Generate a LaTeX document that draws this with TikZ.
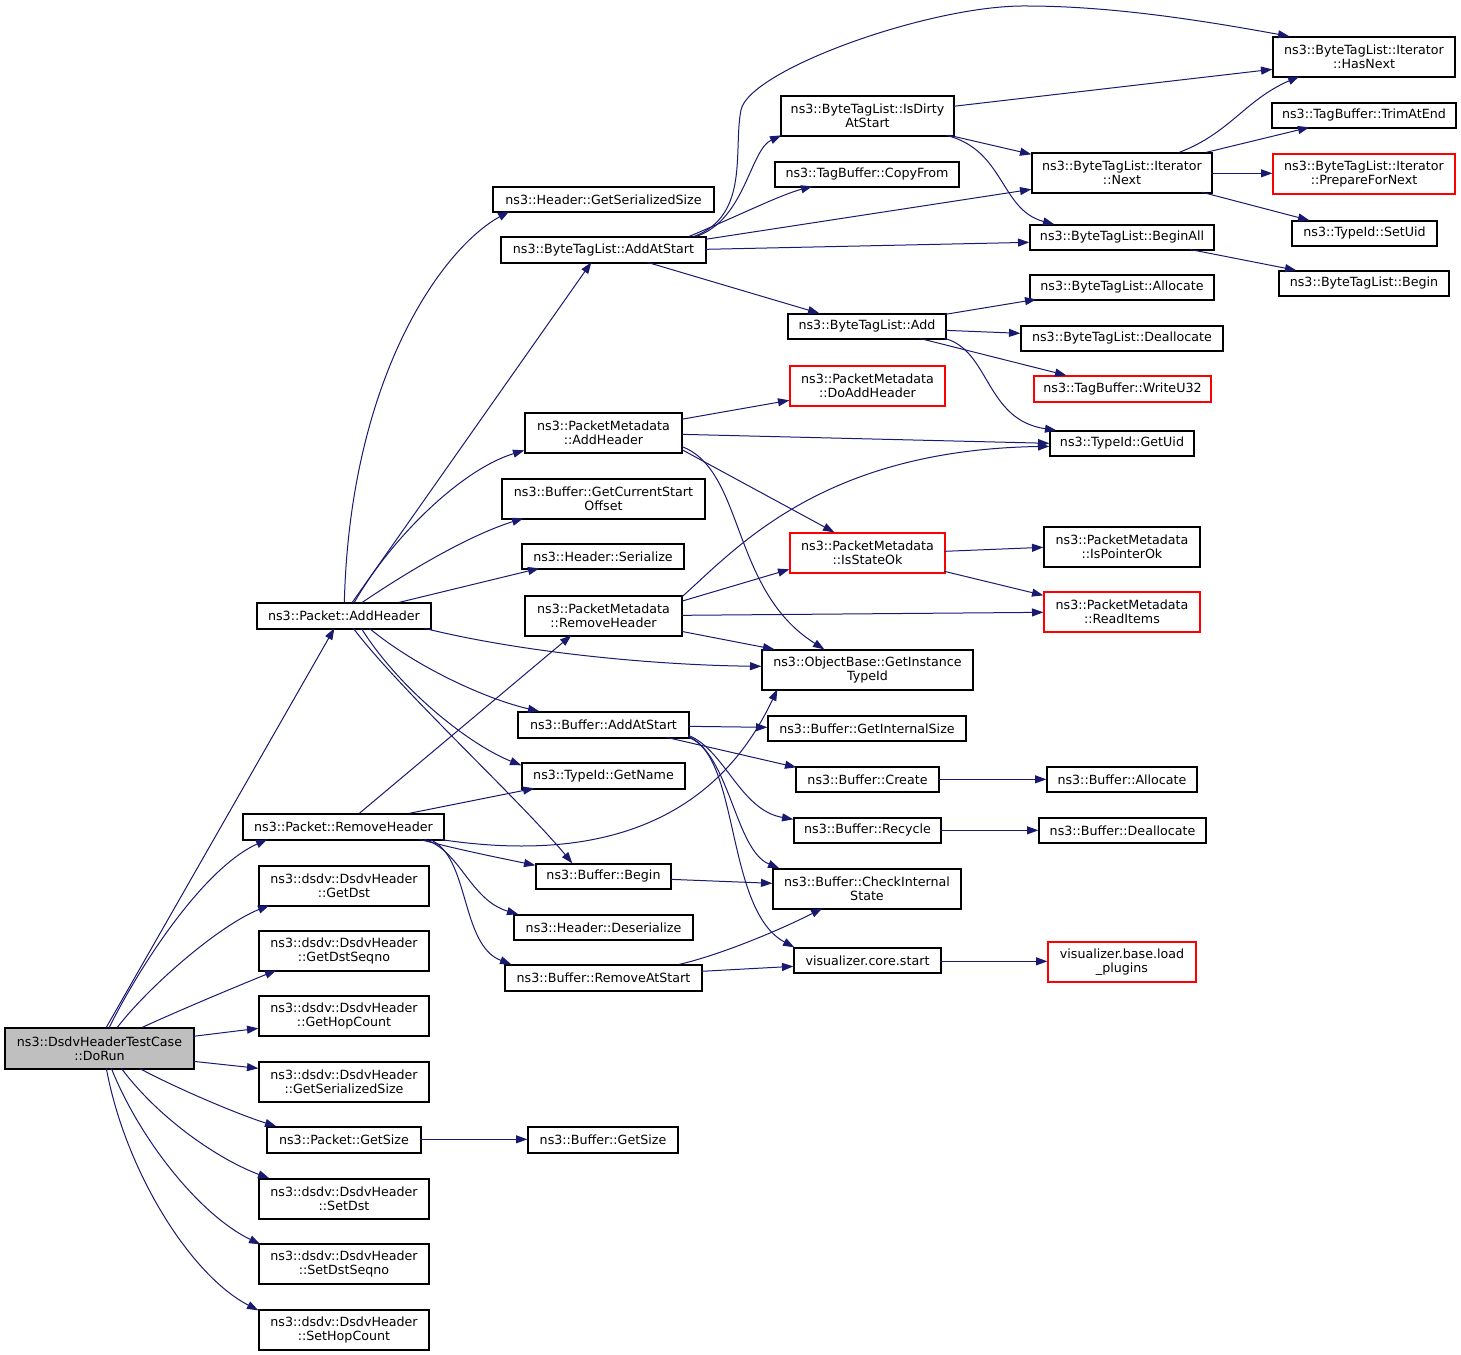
\documentclass[tikz,border=0pt]{standalone}
\usepackage{fontspec}
\setmainfont{DejaVu Sans}
\usetikzlibrary{arrows.meta}
\definecolor{edgeblue}{HTML}{191970}
\definecolor{callergray}{HTML}{BFBFBF}
\newcommand{\nodefont}{\fontsize{9.5}{10.5}\selectfont}
\tikzset{
  nb/.style 2 args={draw=black, fill=white, line width=1pt, inner sep=0pt,
    minimum width=#1*0.75pt, minimum height=#2*0.75pt, align=center, font=\nodefont},
  rb/.style 2 args={nb={#1}{#2}, draw=red},
  e/.style={draw=edgeblue, line width=0.75pt, -{Triangle[length=8.5pt,width=6pt]}},
}
\begin{document}
\begin{tikzpicture}[x=0.75pt,y=-0.75pt]
\useasboundingbox (0,0) rectangle (1461,1355);
% column 0
\node[nb={189}{41}, fill=callergray] (doRun) at (99.5,1048.5) {ns3::DsdvHeaderTestCase\\::DoRun};
% column 1
\node[nb={174}{26}] (pah) at (344,616) {ns3::Packet::AddHeader};
\node[nb={201}{26}] (prh) at (343.5,827) {ns3::Packet::RemoveHeader};
\node[nb={170}{40}] (gdst) at (344,886) {ns3::dsdv::DsdvHeader\\::GetDst};
\node[nb={170}{40}] (gdsq) at (344,951) {ns3::dsdv::DsdvHeader\\::GetDstSeqno};
\node[nb={170}{40}] (ghc) at (344,1016) {ns3::dsdv::DsdvHeader\\::GetHopCount};
\node[nb={170}{40}] (gss) at (344,1082) {ns3::dsdv::DsdvHeader\\::GetSerializedSize};
\node[nb={154}{26}] (pgs) at (344,1140) {ns3::Packet::GetSize};
\node[nb={170}{40}] (sdst) at (344,1199) {ns3::dsdv::DsdvHeader\\::SetDst};
\node[nb={170}{40}] (sdsq) at (344,1264) {ns3::dsdv::DsdvHeader\\::SetDstSeqno};
\node[nb={170}{40}] (shc) at (344,1330) {ns3::dsdv::DsdvHeader\\::SetHopCount};
% column 2
\node[nb={221}{25}] (hgss) at (603.5,199.5) {ns3::Header::GetSerializedSize};
\node[nb={205}{26}] (btas) at (603.5,250) {ns3::ByteTagList::AddAtStart};
\node[nb={157}{40}] (pmah) at (603.5,433) {ns3::PacketMetadata\\::AddHeader};
\node[nb={203}{40}] (bgcso) at (603.5,499) {ns3::Buffer::GetCurrentStart\\Offset};
\node[nb={162}{25}] (hser) at (603,556.5) {ns3::Header::Serialize};
\node[nb={157}{40}] (pmrh) at (603.5,616) {ns3::PacketMetadata\\::RemoveHeader};
\node[nb={171}{26}] (bas) at (603.5,725) {ns3::Buffer::AddAtStart};
\node[nb={163}{26}] (tgn) at (603.5,776) {ns3::TypeId::GetName};
\node[nb={135}{25}] (bbeg) at (603.5,876.5) {ns3::Buffer::Begin};
\node[nb={179}{25}] (hdes) at (603.5,927.5) {ns3::Header::Deserialize};
\node[nb={197}{26}] (bras) at (603.5,978) {ns3::Buffer::RemoveAtStart};
\node[nb={150}{26}] (bgs) at (603,1140) {ns3::Buffer::GetSize};
% column 3
\node[nb={173}{40}] (isdirty) at (867.5,116) {ns3::ByteTagList::IsDirty\\AtStart};
\node[nb={184}{25}] (tbcf) at (867,174.5) {ns3::TagBuffer::CopyFrom};
\node[nb={158}{25}] (btadd) at (867,326.5) {ns3::ByteTagList::Add};
\node[rb={155}{40}] (doadd) at (867.5,386) {ns3::PacketMetadata\\::DoAddHeader};
\node[rb={155}{40}] (isok) at (867.5,553) {ns3::PacketMetadata\\::IsStateOk};
\node[nb={211}{40}] (obgit) at (867.5,670) {ns3::ObjectBase::GetInstance\\TypeId};
\node[nb={198}{25}] (bgis) at (867,728.5) {ns3::Buffer::GetInternalSize};
\node[nb={143}{25}] (bcre) at (867.5,779.5) {ns3::Buffer::Create};
\node[nb={147}{25}] (brec) at (867.5,830.5) {ns3::Buffer::Recycle};
\node[nb={188}{40}] (bcis) at (867,889) {ns3::Buffer::CheckInternal\\State};
\node[nb={147}{25}] (vcs) at (867.5,960.5) {visualizer.core.start};
% column 4
\node[nb={180}{40}] (inext) at (1122,173) {ns3::ByteTagList::Iterator\\::Next};
\node[nb={184}{25}] (ball) at (1122,237.5) {ns3::ByteTagList::BeginAll};
\node[nb={184}{25}] (balloc) at (1122,287.5) {ns3::ByteTagList::Allocate};
\node[nb={202}{25}] (bdeal) at (1122,338.5) {ns3::ByteTagList::Deallocate};
\node[rb={177}{26}] (wu32) at (1122.5,389) {ns3::TagBuffer::WriteU32};
\node[nb={144}{25}] (guid) at (1122,443.5) {ns3::TypeId::GetUid};
\node[nb={156}{40}] (ipok) at (1122,547) {ns3::PacketMetadata\\::IsPointerOk};
\node[rb={156}{40}] (ritems) at (1122,612) {ns3::PacketMetadata\\::ReadItems};
\node[nb={150}{25}] (balc) at (1122,779.5) {ns3::Buffer::Allocate};
\node[nb={167}{25}] (bdea) at (1122.5,830.5) {ns3::Buffer::Deallocate};
\node[rb={148}{40}] (vlp) at (1122,962) {visualizer.base.load\\\_plugins};
% column 5
\node[nb={182}{40}] (hasnext) at (1364,57) {ns3::ByteTagList::Iterator\\::HasNext};
\node[nb={184}{25}] (trim) at (1364,115.5) {ns3::TagBuffer::TrimAtEnd};
\node[rb={182}{40}] (prep) at (1364,174) {ns3::ByteTagList::Iterator\\::PrepareForNext};
\node[nb={145}{25}] (setuid) at (1364.5,233.5) {ns3::TypeId::SetUid};
\node[nb={170}{25}] (btbeg) at (1364,283.5) {ns3::ByteTagList::Begin};

% edges from DoRun
\draw[e] ([shift={(102,0)}]doRun.north west) -- ([shift={(78,26)}]pah.north west);
\draw[e] ([shift={(105,0)}]doRun.north west) .. controls (135,975) and (200,870) .. ([shift={(25,26)}]prh.north west);
\draw[e] ([shift={(113,0)}]doRun.north west) .. controls (150,985) and (220,925) .. ([shift={(11,40)}]gdst.north west);
\draw[e] ([shift={(138,0)}]doRun.north west) .. controls (180,1010) and (240,985) .. ([shift={(18,40)}]gdsq.north west);
\draw[e] ([shift={(189,9)}]doRun.north west) -- ([shift={(0,33)}]ghc.north west);
\draw[e] ([shift={(189,34)}]doRun.north west) -- ([shift={(0,7)}]gss.north west);
\draw[e] ([shift={(135,41)}]doRun.north west) .. controls (180,1090) and (240,1115) .. ([shift={(10,0)}]pgs.north west);
\draw[e] ([shift={(117,41)}]doRun.north west) .. controls (160,1120) and (220,1160) .. ([shift={(11,0)}]sdst.north west);
\draw[e] ([shift={(107,41)}]doRun.north west) .. controls (140,1140) and (200,1215) .. ([shift={(2,1)}]sdsq.north west);
\draw[e] ([shift={(102,41)}]doRun.north west) .. controls (125,1170) and (190,1275) .. ([shift={(0,1)}]shc.north west);
% edges from Packet::AddHeader
\draw[e] ([shift={(88,0)}]pah.north west) .. controls (350,380) and (440,250) .. ([shift={(17,25)}]hgss.north west);
\draw[e] ([shift={(96,0)}]pah.north west) -- ([shift={(91,26)}]btas.north west);
\draw[e] ([shift={(98,0)}]pah.north west) .. controls (390,540) and (460,470) .. ([shift={(0,38)}]pmah.north west);
\draw[e] ([shift={(106,0)}]pah.north west) .. controls (410,570) and (470,535) .. ([shift={(22,40)}]bgcso.north west);
\draw[e] ([shift={(143,0)}]pah.north west) -- ([shift={(18,25)}]hser.north west);
\draw[e] ([shift={(168,26)}]pah.north west) .. controls (520,652) and (650,665) .. ([shift={(0,17)}]obgit.north west);
\draw[e] ([shift={(113,26)}]pah.north west) .. controls (420,670) and (490,700) .. ([shift={(22,0)}]bas.north west);
\draw[e] ([shift={(105,26)}]pah.north west) .. controls (400,690) and (470,745) .. ([shift={(0,3)}]tgn.north west);
\draw[e] ([shift={(97,26)}]pah.north west) .. controls (400,690) and (520,800) .. ([shift={(37,0)}]bbeg.north west);
% edges from Packet::RemoveHeader
\draw[e] ([shift={(117,0)}]prh.north west) -- ([shift={(47,40)}]pmrh.north west);
\draw[e] ([shift={(167,0)}]prh.north west) -- ([shift={(13,26)}]tgn.north west);
\draw[e] ([shift={(197,26)}]prh.north west) .. controls (640,870) and (730,790) .. ([shift={(16,40)}]obgit.north west);
\draw[e] ([shift={(177,26)}]prh.north west) .. controls (460,850) and (500,858) .. ([shift={(0,2)}]bbeg.north west);
\draw[e] ([shift={(182,26)}]prh.north west) .. controls (460,850) and (470,900) .. ([shift={(5,0)}]hdes.north west);
\draw[e] ([shift={(187,26)}]prh.north west) .. controls (470,855) and (460,945) .. ([shift={(7,0)}]bras.north west);
% Packet::GetSize
\draw[e] ([shift={(154,13)}]pgs.north west) -- ([shift={(0,13)}]bgs.north west);
% ByteTagList::AddAtStart
\draw[e] ([shift={(196,0)}]btas.north west) .. controls (745,220) and (750,150) .. ([shift={(1,40)}]isdirty.north west);
\draw[e] ([shift={(194,0)}]btas.north west) .. controls (750,215) and (733,150) .. (741,110)
   .. controls (749,70) and (930,5) .. (1026,6)
   .. controls (1110,6) and (1200,20) .. ([shift={(17,0)}]hasnext.north west);
\draw[e] ([shift={(189,0)}]btas.north west) .. controls (740,215) and (780,195) .. ([shift={(38,25)}]tbcf.north west);
\draw[e] ([shift={(205,3)}]btas.north west) -- ([shift={(0,37)}]inext.north west);
\draw[e] ([shift={(205,13)}]btas.north west) -- ([shift={(0,18)}]ball.north west);
\draw[e] ([shift={(147,26)}]btas.north west) -- ([shift={(32,0)}]btadd.north west);
% IsDirtyAtStart
\draw[e] ([shift={(173,11)}]isdirty.north west) -- ([shift={(0,33)}]hasnext.north west);
\draw[e] ([shift={(169,40)}]isdirty.north west) -- ([shift={(0,2)}]inext.north west);
\draw[e] ([shift={(166,40)}]isdirty.north west) .. controls (1005,150) and (1000,210) .. ([shift={(25,0)}]ball.north west);
% Iterator::Next
\draw[e] ([shift={(148,0)}]inext.north west) .. controls (1230,133) and (1245,100) .. ([shift={(27,40)}]hasnext.north west);
\draw[e] ([shift={(175,0)}]inext.north west) -- ([shift={(38,25)}]trim.north west);
\draw[e] ([shift={(180,21)}]inext.north west) -- ([shift={(0,20)}]prep.north west);
\draw[e] ([shift={(171,40)}]inext.north west) -- ([shift={(18,0)}]setuid.north west);
% BeginAll
\draw[e] ([shift={(160,25)}]ball.north west) -- ([shift={(18,0)}]btbeg.north west);
% ByteTagList::Add
\draw[e] ([shift={(158,1)}]btadd.north west) -- ([shift={(7,25)}]balloc.north west);
\draw[e] ([shift={(158,17)}]btadd.north west) -- ([shift={(0,8)}]bdeal.north west);
\draw[e] ([shift={(132,25)}]btadd.north west) -- ([shift={(33,0)}]wu32.north west);
\draw[e] ([shift={(157,25)}]btadd.north west) .. controls (990,350) and (985,420) .. ([shift={(7,0)}]guid.north west);
% PacketMetadata::AddHeader
\draw[e] ([shift={(157,7)}]pmah.north west) -- ([shift={(0,35)}]doadd.north west);
\draw[e] ([shift={(157,22)}]pmah.north west) -- ([shift={(0,13)}]guid.north west);
\draw[e] ([shift={(157,37)}]pmah.north west) -- ([shift={(45,0)}]isok.north west);
\draw[e] ([shift={(157,34)}]pmah.north west) .. controls (745,470) and (730,590) .. ([shift={(63,0)}]obgit.north west);
% PacketMetadata::RemoveHeader
\draw[e] ([shift={(157,2)}]pmrh.north west) .. controls (735,550) and (820,450) .. ([shift={(0,16)}]guid.north west);
\draw[e] ([shift={(157,6)}]pmrh.north west) -- ([shift={(0,37)}]isok.north west);
\draw[e] ([shift={(157,20)}]pmrh.north west) -- ([shift={(0,21)}]ritems.north west);
\draw[e] ([shift={(157,36)}]pmrh.north west) -- ([shift={(13,0)}]obgit.north west);
% IsStateOk
\draw[e] ([shift={(155,19)}]isok.north west) -- ([shift={(0,21)}]ipok.north west);
\draw[e] ([shift={(155,39)}]isok.north west) -- ([shift={(0,4)}]ritems.north west);
% Buffer::AddAtStart
\draw[e] ([shift={(171,15)}]bas.north west) -- ([shift={(0,12)}]bgis.north west);
\draw[e] ([shift={(149,26)}]bas.north west) -- ([shift={(1,1)}]bcre.north west);
\draw[e] ([shift={(171,24)}]bas.north west) .. controls (725,750) and (740,810) .. ([shift={(0,2)}]brec.north west);
\draw[e] ([shift={(171,25)}]bas.north west) .. controls (730,755) and (735,850) .. ([shift={(7,0)}]bcis.north west);
\draw[e] ([shift={(171,26)}]bas.north west) .. controls (740,755) and (725,910) .. ([shift={(1,0)}]vcs.north west);
% Buffer::Begin, RemoveAtStart
\draw[e] ([shift={(135,16)}]bbeg.north west) -- ([shift={(0,15)}]bcis.north west);
\draw[e] ([shift={(175,0)}]bras.north west) .. controls (720,955) and (780,930) .. ([shift={(50,40)}]bcis.north west);
\draw[e] ([shift={(197,7)}]bras.north west) -- ([shift={(0,19)}]vcs.north west);
% third level
\draw[e] ([shift={(143,13)}]bcre.north west) -- ([shift={(0,13)}]balc.north west);
\draw[e] ([shift={(147,13)}]brec.north west) -- ([shift={(0,13)}]bdea.north west);
\draw[e] ([shift={(147,14)}]vcs.north west) -- ([shift={(0,20)}]vlp.north west);
\end{tikzpicture}
\end{document}
